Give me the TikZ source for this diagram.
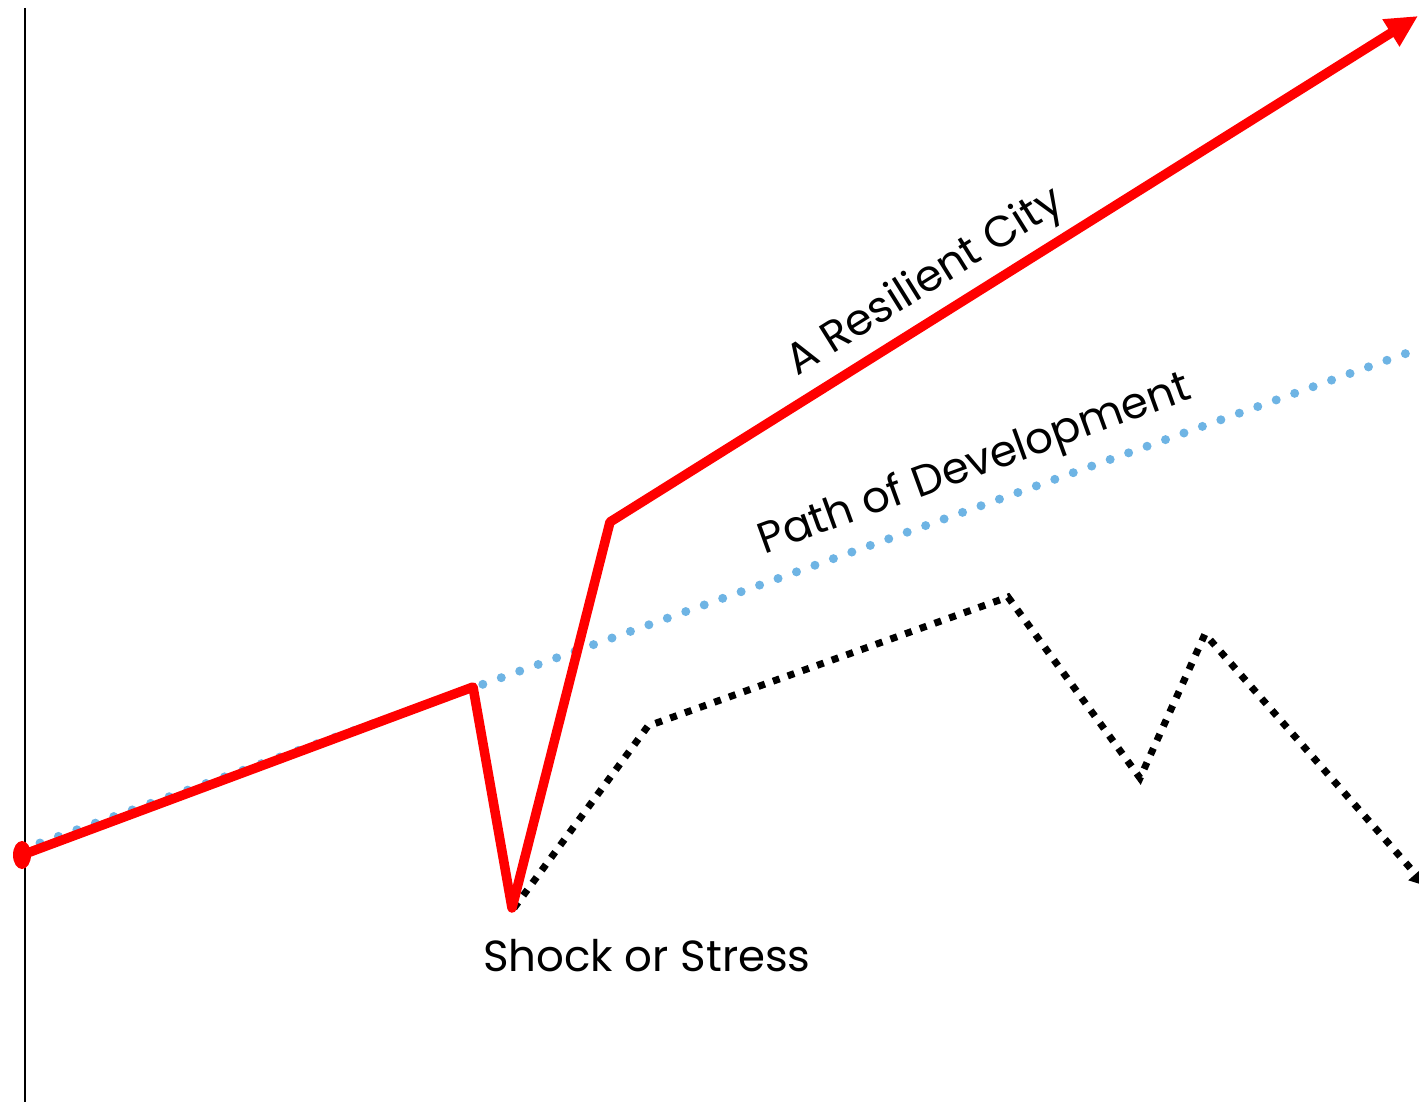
\documentclass[tikz,border=0pt]{standalone}
\usepackage{fontspec}
\setmainfont{Poppins}
\usetikzlibrary{arrows.meta}
\definecolor{pathblue}{RGB}{110,180,228}
\begin{document}
\begin{tikzpicture}[x=1pt,y=-1pt,
  axisline/.style={draw=black, line width=2pt},
  redline/.style={draw=red, line width=9.5pt, line join=round, line cap=round},
  bluedots/.style={draw=pathblue, line width=9pt, line cap=round, dash pattern=on 0pt off 19.6pt},
  blackdots/.style={draw=black, line width=7pt, dash pattern=on 7pt off 8.6pt},
  lbl/.style={font=\fontsize{43.5}{52}\selectfont, inner sep=0pt}]
\useasboundingbox (0,0) rectangle (1419,1102);
\clip (0,0) rectangle (1419,1102);
% axis
\coordinate (a0) at (25,8);
\coordinate (a1) at (25,1102);
\draw[axisline] (a0) -- (a1);
% path of development
\coordinate (b0) at (40,843);
\coordinate (b1) at (1410,352);
\draw[bluedots] (b0) -- (b1);
% black declining path
\coordinate (k0) at (514,908);
\coordinate (k1) at (648,726);
\coordinate (k2) at (1008,597);
\coordinate (k3) at (1140,778);
\coordinate (k4) at (1205,634);
\coordinate (k5) at (1426,886);
\draw[blackdots, -{Triangle[length=16pt,width=18pt]}] (k0) -- (k1) -- (k2) -- (k3) -- (k4) -- (k5);
% resilient path
\coordinate (r0) at (22,855);
\coordinate (r1) at (473,687);
\coordinate (r2) at (512,908);
\coordinate (r3) at (610,522);
\coordinate (r4) at (1418,16);
\draw[redline, -{Triangle[length=32pt,width=30pt]}] (r0) -- (r1) -- (r2) -- (r3) -- (r4);
\fill[red] (r0) ellipse (9 and 14);
% labels
\node[lbl, rotate=32] (lres) at (926,283) {A Resilient City};
\node[lbl, rotate=20] (lpath) at (975,466) {Path of Development};
\node[lbl] (lshock) at (647,956) {Shock or Stress};
\end{tikzpicture}
\end{document}
